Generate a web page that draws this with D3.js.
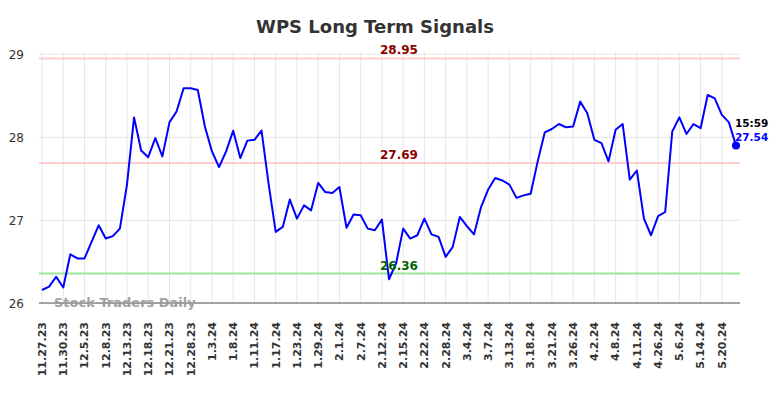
<!DOCTYPE html>
<html>
<head>
<meta charset="utf-8">
<script src="https://cdn.jsdelivr.net/npm/d3@7"></script>
<style>
  html, body { margin: 0; padding: 0; background: #fff; }
  svg { display: block; font-family: "DejaVu Sans", sans-serif; }
</style>
</head>
<body>
<svg id="chart" width="784" height="398"></svg>
<script>
const title = "WPS Long Term Signals";
const tickLabels = ["11.27.23","11.30.23","12.5.23","12.8.23","12.13.23","12.18.23","12.21.23","12.28.23",
  "1.3.24","1.8.24","1.11.24","1.17.24","1.23.24","1.29.24","2.1.24","2.7.24","2.12.24","2.15.24",
  "2.22.24","2.28.24","3.4.24","3.7.24","3.13.24","3.18.24","3.21.24","3.26.24","4.2.24","4.8.24",
  "4.11.24","4.26.24","5.6.24","5.14.24","5.20.24"];
const tickStep = 3;
const prices = [26.16,26.20,26.32,26.19,26.59,26.54,26.54,26.74,26.94,26.78,
  26.81,26.90,27.43,28.24,27.84,27.76,27.99,27.77,28.18,28.31,
  28.59,28.59,28.57,28.13,27.83,27.64,27.83,28.08,27.75,27.96,
  27.97,28.08,27.44,26.86,26.92,27.25,27.02,27.18,27.12,27.45,
  27.34,27.33,27.40,26.91,27.07,27.06,26.90,26.88,27.01,26.29,
  26.48,26.90,26.78,26.82,27.02,26.83,26.80,26.56,26.68,27.04,
  26.93,26.83,27.16,27.37,27.51,27.48,27.43,27.27,27.30,27.32,
  27.71,28.06,28.10,28.16,28.12,28.13,28.43,28.29,27.97,27.93,
  27.71,28.09,28.16,27.49,27.60,27.02,26.82,27.05,27.10,28.07,
  28.24,28.04,28.16,28.11,28.51,28.47,28.27,28.18,27.90];
const yTicks = [26, 27, 28, 29];
const resistanceLevels = [28.95, 27.69];
const supportLevels = [26.36];
const lastTime = "15:59";
const lastLabel = "27.54";
const watermark = "Stock Traders Daily";

const svg = d3.select("#chart");
const plot = { left: 39, right: 740, top: 52, bottom: 303 };

const x = d3.scaleLinear().domain([0, prices.length - 1]).range([42, 736]);
const y = d3.scaleLinear().domain([26, 29]).range([303.3, 54.3]);

// title
svg.append("text").attr("x", 375).attr("y", 33).attr("text-anchor", "middle")
  .attr("font-size", 18).attr("font-weight", "bold").attr("fill", "#333").text(title);

// horizontal grid
svg.append("g").selectAll("line").data(yTicks).join("line")
  .attr("x1", plot.left).attr("x2", plot.right)
  .attr("y1", d => y(d)).attr("y2", d => y(d))
  .attr("stroke", "#e6e6e6").attr("stroke-width", 1);

// vertical grid
const tickIdx = tickLabels.map((_, i) => i * tickStep);
svg.append("g").selectAll("line").data(tickIdx).join("line")
  .attr("x1", d => x(d)).attr("x2", d => x(d))
  .attr("y1", plot.top).attr("y2", plot.bottom)
  .attr("stroke", "#e6e6e6").attr("stroke-width", 1);

// y labels
svg.append("g").selectAll("text").data(yTicks).join("text")
  .attr("x", 24).attr("y", d => y(d)).attr("dy", "0.35em")
  .attr("text-anchor", "end").attr("font-size", 12).attr("fill", "#333")
  .text(d => d);

// level lines
svg.append("g").selectAll("line").data(resistanceLevels).join("line")
  .attr("x1", plot.left).attr("x2", plot.right)
  .attr("y1", d => y(d)).attr("y2", d => y(d))
  .attr("stroke", "#ffcccc").attr("stroke-width", 2);
svg.append("g").selectAll("line").data(supportLevels).join("line")
  .attr("x1", plot.left).attr("x2", plot.right)
  .attr("y1", d => y(d)).attr("y2", d => y(d))
  .attr("stroke", "#99e699").attr("stroke-width", 2);

// bottom axis line
svg.append("line").attr("x1", plot.left).attr("x2", plot.right)
  .attr("y1", plot.bottom).attr("y2", plot.bottom)
  .attr("stroke", "#555").attr("stroke-width", 1.2);

// watermark
svg.append("text").attr("x", 54).attr("y", 307)
  .attr("font-size", 13).attr("font-weight", "bold").attr("fill", "#999").attr("opacity", 0.9)
  .text(watermark);

// price line
svg.append("path").datum(prices)
  .attr("d", d3.line().x((d, i) => x(i)).y(d => y(d)))
  .attr("fill", "none").attr("stroke", "#0000ff").attr("stroke-width", 2)
  .attr("stroke-linejoin", "round");

// level labels
svg.append("g").selectAll("text").data(resistanceLevels).join("text")
  .attr("x", 399).attr("y", d => y(d) - 4).attr("text-anchor", "middle")
  .attr("font-size", 12).attr("font-weight", "bold").attr("fill", "#8b0000")
  .text(d => d.toFixed(2));
svg.append("g").selectAll("text").data(supportLevels).join("text")
  .attr("x", 399).attr("y", d => y(d) - 3).attr("text-anchor", "middle")
  .attr("font-size", 12).attr("font-weight", "bold").attr("fill", "#006400")
  .text(d => d.toFixed(2));

// last point
const li = prices.length - 1;
svg.append("circle").attr("cx", x(li)).attr("cy", y(prices[li])).attr("r", 4).attr("fill", "#0000ff");
svg.append("text").attr("x", 735).attr("y", 127)
  .attr("font-size", 10.5).attr("font-weight", "bold").attr("fill", "#000").text(lastTime);
svg.append("text").attr("x", 735).attr("y", 141)
  .attr("font-size", 10.5).attr("font-weight", "bold").attr("fill", "#0000ff").text(lastLabel);

// x tick labels
svg.append("g").selectAll("text").data(tickLabels).join("text")
  .attr("transform", (d, i) => `translate(${x(i * tickStep)},322) rotate(-90)`)
  .attr("dy", "0.35em").attr("text-anchor", "end")
  .attr("font-size", 11).attr("font-weight", "bold").attr("fill", "#333")
  .text(d => d);
</script>
</body>
</html>
